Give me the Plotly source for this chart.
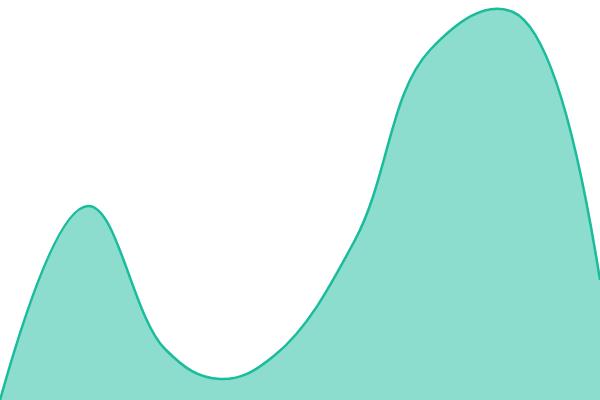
import plotly.graph_objects as go

# sample positions along the curve and their heights
x_vals = [0, 88, 165, 220, 275, 355, 430, 513, 600]
y_vals = [0, 194, 51, 21, 45, 160, 350, 388, 120]

fig = go.Figure()

fig.add_trace(go.Scatter(
    x=x_vals,
    y=y_vals,
    mode='lines',
    line=dict(color='#1abc9c', width=2.5, shape='spline', smoothing=1.15),
    fill='tozeroy',
    fillcolor='rgba(26,188,156,0.5)',
    hoverinfo='skip',
    showlegend=False,
))

fig.update_layout(
    width=600,
    height=400,
    margin=dict(l=0, r=0, t=0, b=0),
    paper_bgcolor='white',
    plot_bgcolor='white',
    xaxis=dict(visible=False, range=[0, 600]),
    yaxis=dict(visible=False, range=[0, 400]),
)

# drop the default page margin so the chart sits at the corner
fig.write_html("out.html", config={'displayModeBar': False},
               post_script="document.body.style.margin='0';")
